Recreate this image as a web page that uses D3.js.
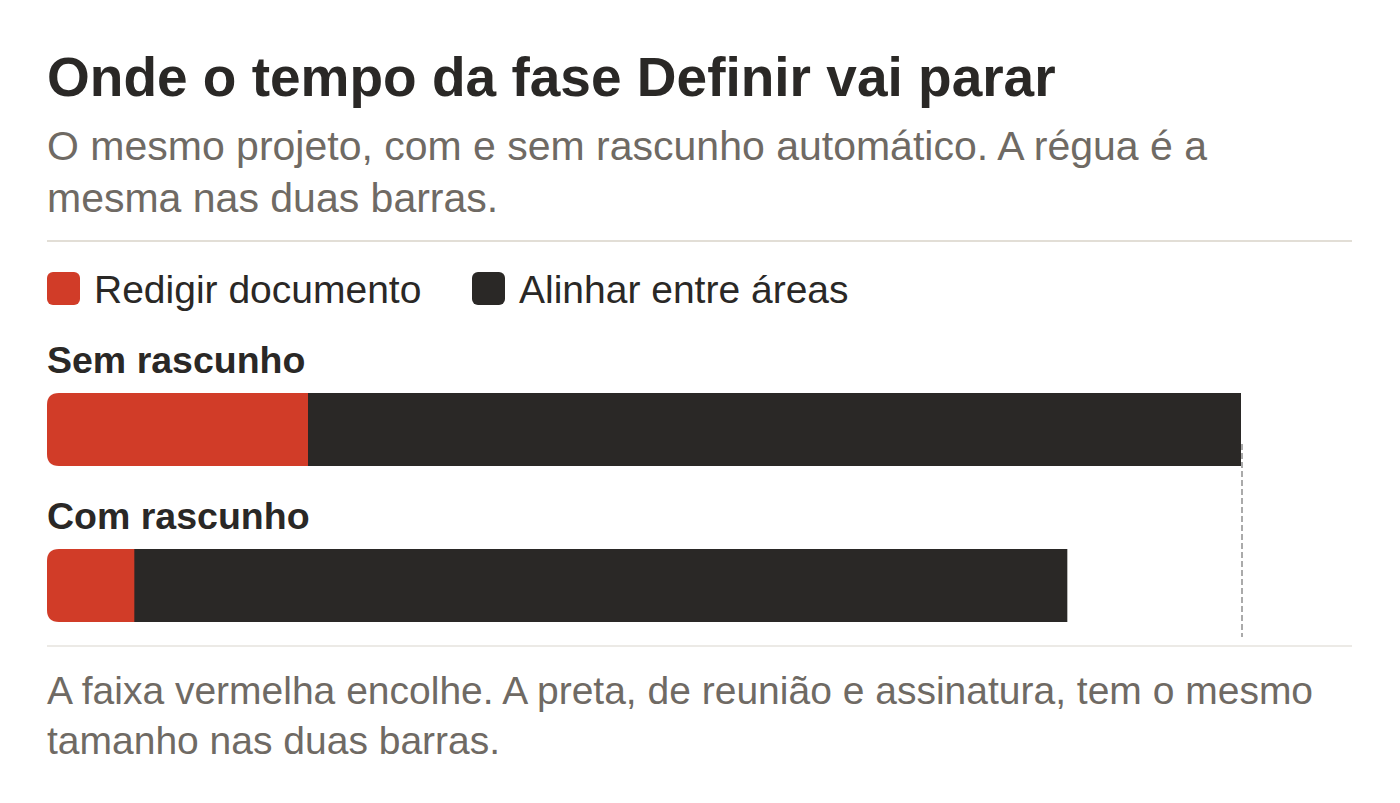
<!DOCTYPE html>
<html>
<head>
<meta charset="utf-8">
<script src="https://cdn.jsdelivr.net/npm/d3@7"></script>
<style>
  body { margin: 0; background: #fff; }
  text { font-family: "Liberation Sans", Arial, Helvetica, sans-serif; }
</style>
</head>
<body>
<div id="container"></div>
<script>
let w = 1400;
let h = 803;
let left = 47;
let right = 1352;

// data
let scenarios = ["Sem rascunho", "Com rascunho"];
let redigir = [6, 2];        // Redigir documento
let alinhar = [21.5, 21.5];  // Alinhar entre áreas
let seriesNames = ["Redigir documento", "Alinhar entre áreas"];
let seriesColors = ["#d13c28", "#2a2826"];

let titleText = "Onde o tempo da fase Definir vai parar";
let subtitleLines = ["O mesmo projeto, com e sem rascunho automático. A régua é a", "mesma nas duas barras."];
let noteLines = ["A faixa vermelha encolhe. A preta, de reunião e assinatura, tem o mesmo", "tamanho nas duas barras."];

let viz = d3.select("#container").append("svg")
  .attr("width", w)
  .attr("height", h)
  .style("background", "#fff");

// title + subtitle
viz.append("text").attr("x", left).attr("y", 96)
  .attr("font-size", 55).attr("font-weight", "bold").attr("fill", "#2a2826")
  .text(titleText);

viz.selectAll(".sub").data(subtitleLines).enter().append("text")
  .attr("class", "sub")
  .attr("x", left).attr("y", (d, i) => 160 + i * 52)
  .attr("font-size", 41).attr("fill", "#6f6a64")
  .text(d => d);

viz.append("line").attr("x1", left).attr("x2", right).attr("y1", 241).attr("y2", 241)
  .attr("stroke", "#e2ded6").attr("stroke-width", 2);

// legend
let legendX = [47, 472];
let legend = viz.selectAll(".legend").data(seriesNames).enter().append("g")
  .attr("class", "legend")
  .attr("transform", (d, i) => "translate(" + legendX[i] + ",272)");
legend.append("rect").attr("width", 33).attr("height", 33).attr("rx", 6)
  .attr("fill", (d, i) => seriesColors[i]);
legend.append("text").attr("x", 47).attr("y", 31)
  .attr("font-size", 39).attr("fill", "#2a2826")
  .text(d => d);

// bars
let rows = scenarios.map(function (s, i) {
  return { name: s, red: redigir[i], black: alinhar[i] };
});

let x = d3.scaleLinear()
  .domain([0, d3.max(rows, d => d.red + d.black)])
  .range([left, 1241]);

let rowY = d3.scalePoint().domain(scenarios).range([393, 549]);
let barH = 73;
let r = 12;

function leftRounded(x0, x1, y0, hh, rr) {
  return "M" + (x0 + rr) + "," + y0 +
    "H" + x1 + "V" + (y0 + hh) + "H" + (x0 + rr) +
    "Q" + x0 + "," + (y0 + hh) + " " + x0 + "," + (y0 + hh - rr) +
    "V" + (y0 + rr) +
    "Q" + x0 + "," + y0 + " " + (x0 + rr) + "," + y0 + "Z";
}

let groups = viz.selectAll(".datagroup").data(rows).enter().append("g")
  .attr("class", "datagroup");

groups.append("text")
  .attr("x", left).attr("y", d => rowY(d.name) - 20)
  .attr("font-size", 37.5).attr("font-weight", "bold").attr("fill", "#2a2826")
  .text(d => d.name);

groups.append("rect")
  .attr("x", d => x(d.red))
  .attr("y", d => rowY(d.name))
  .attr("width", d => x(d.red + d.black) - x(d.red))
  .attr("height", barH)
  .attr("fill", seriesColors[1]);

groups.append("path")
  .attr("d", d => leftRounded(x(0), x(d.red) + 0.5, rowY(d.name), barH, r))
  .attr("fill", seriesColors[0]);

// reference line at the end of the longer bar
let maxTotal = rows[0].red + rows[0].black;
viz.append("line")
  .attr("x1", x(maxTotal) + 1).attr("x2", x(maxTotal) + 1)
  .attr("y1", 444).attr("y2", 637)
  .attr("stroke", "#aaa").attr("stroke-width", 2).attr("stroke-dasharray", "6,3");

viz.append("line").attr("x1", left).attr("x2", right).attr("y1", 646).attr("y2", 646)
  .attr("stroke", "#e6e3de").attr("stroke-width", 1.5);

viz.selectAll(".note").data(noteLines).enter().append("text")
  .attr("class", "note")
  .attr("x", left).attr("y", (d, i) => 704 + i * 50)
  .attr("font-size", 39).attr("fill", "#6f6a64")
  .text(d => d);
</script>
</body>
</html>
